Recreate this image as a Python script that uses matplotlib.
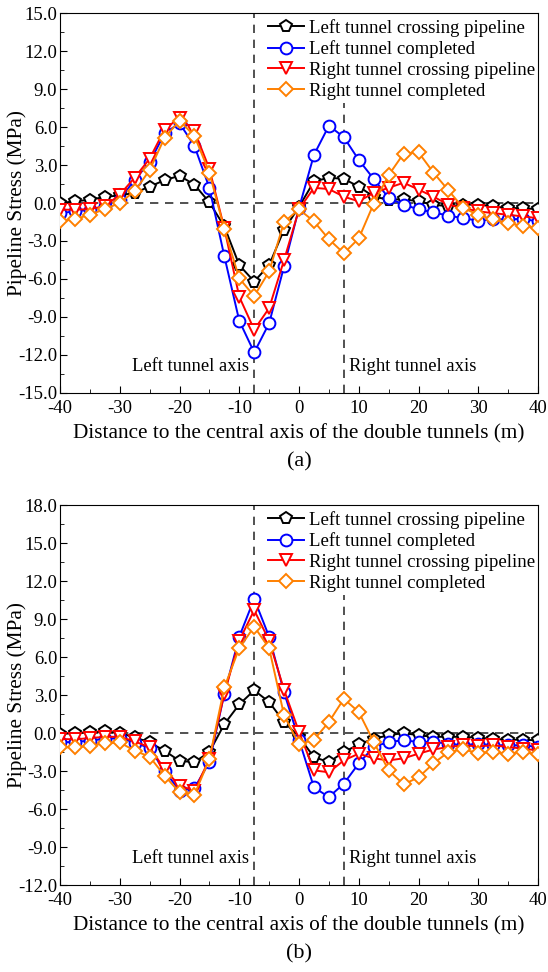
import matplotlib
matplotlib.use('Agg')
import matplotlib.pyplot as plt
import numpy as np
from matplotlib.ticker import MultipleLocator, FormatStrFormatter

plt.rcParams['font.family'] = ['Liberation Serif', 'DejaVu Serif']
plt.rcParams['axes.unicode_minus'] = False

x = np.arange(-40, 40.1, 2.5)

names = ('Left tunnel crossing pipeline', 'Left tunnel completed',
         'Right tunnel crossing pipeline', 'Right tunnel completed')

# panel (a)
a_left_cross = [0.0, 0.13, 0.26, 0.48, 0.6, 0.8, 1.3, 1.8, 2.15, 1.45,
                0.05, -1.85, -4.9, -6.2, -4.9, -2.1, -0.3, 1.7, 2.0, 1.9,
                1.3, 0.5, 0.26, 0.3, 0.13, -0.13, -0.26, -0.13, -0.13, -0.26,
                -0.4, -0.4, -0.5]
a_left_done = [-0.8, -0.66, -0.53, -0.26, 0.26, 1.85, 3.2, 5.5, 6.3, 4.5,
               1.2, -4.2, -9.3, -11.8, -9.5, -5.0, -0.4, 3.8, 6.1, 5.2,
               3.4, 1.9, 0.4, -0.13, -0.5, -0.74, -1.0, -1.2, -1.4, -1.3,
               -1.27, -1.27, -1.45]
a_right_cross = [-0.53, -0.53, -0.48, -0.26, 0.66, 2.0, 3.5, 5.8, 6.75, 5.7,
                 2.7, -2.0, -7.4, -10.0, -8.3, -4.5, -0.5, 1.2, 1.1, 0.5,
                 0.13, 0.8, 1.2, 1.6, 1.06, 0.5, -0.13, -0.4, -0.66, -0.8,
                 -0.93, -1.06, -1.2]
a_right_done = [-1.45, -1.27, -0.93, -0.48, 0.0, 0.93, 2.6, 5.15, 6.5, 5.3,
                2.4, -2.06, -5.95, -7.35, -5.4, -1.5, -0.5, -1.45, -2.86, -3.97,
                -2.8, -0.05, 2.2, 3.9, 4.0, 2.4, 1.0, -0.4, -0.93, -1.3,
                -1.6, -1.8, -2.0]

# panel (b)
b_left_cross = [-0.08, 0.0, 0.05, 0.13, 0.0, -0.34, -0.74, -1.4, -2.2, -2.3,
                -1.5, 0.7, 2.26, 3.37, 2.45, 0.87, -0.3, -1.9, -2.3, -1.5,
                -0.9, -0.45, -0.18, 0.0, -0.18, -0.3, -0.3, -0.3, -0.37, -0.45,
                -0.53, -0.53, -0.58]
b_left_done = [-0.74, -0.7, -0.6, -0.45, -0.4, -0.75, -1.2, -3.0, -4.55, -4.35,
               -2.3, 3.1, 7.6, 10.6, 7.6, 3.2, -0.53, -4.3, -5.05, -4.0,
               -2.4, -1.1, -0.7, -0.58, -0.7, -0.7, -0.84, -0.97, -0.84, -0.97,
               -0.97, -0.97, -1.1]
b_right_cross = [-0.47, -0.5, -0.4, -0.3, -0.3, -0.66, -1.13, -2.85, -4.16, -4.55,
                 -2.05, 3.1, 7.3, 9.7, 7.3, 3.4, 0.1, -2.95, -3.1, -2.16,
                 -1.63, -2.0, -2.16, -2.0, -1.63, -1.3, -1.1, -0.97, -1.05, -0.97,
                 -1.1, -1.24, -1.37]
b_right_done = [-1.13, -1.13, -1.0, -0.82, -0.74, -1.4, -1.87, -3.37, -4.68, -4.87,
                -2.05, 3.6, 6.7, 8.4, 6.7, 1.4, -0.9, -0.53, 0.87, 2.7,
                1.66, -0.7, -2.95, -4.05, -3.5, -2.4, -1.5, -1.3, -1.58, -1.5,
                -1.63, -1.5, -1.68]

colors = ('black', '#0000ff', '#ff0000', '#ff8000')
markers = ('p', 'o', 'v', 'D')
msizes = (8.5, 8.5, 8.5, 7.5)

panels = (
    ('(a)', (a_left_cross, a_left_done, a_right_cross, a_right_done), (-15, 15)),
    ('(b)', (b_left_cross, b_left_done, b_right_cross, b_right_done), (-12, 18)),
)

fig = plt.figure(figsize=(5.48, 9.72), dpi=100)
boxes = ([0.1095, 0.5957, 0.8723, 0.3909], [0.1095, 0.0895, 0.8723, 0.3909])
dash = (0, (5, 4))

for box, (tag, series, ylim) in zip(boxes, panels):
    ax = fig.add_axes(box)
    for ys, name, c, m, ms in zip(series, names, colors, markers, msizes):
        ax.plot(x, ys, color=c, marker=m, markersize=ms, markerfacecolor='white',
                markeredgewidth=1.4, linewidth=1.4, label=name, zorder=3)
    ax.axhline(0, color='#333333', linestyle=dash, linewidth=1.2, zorder=1)
    ax.axvline(-7.5, color='#333333', linestyle=dash, linewidth=1.2, zorder=1)
    ax.axvline(7.5, ymax=0.763, color='#333333', linestyle=dash, linewidth=1.2, zorder=1)
    ax.set_xlim(-40, 40)
    ax.set_ylim(*ylim)
    ax.xaxis.set_major_locator(MultipleLocator(10))
    ax.xaxis.set_minor_locator(MultipleLocator(5))
    ax.yaxis.set_major_locator(MultipleLocator(3))
    ax.yaxis.set_minor_locator(MultipleLocator(1.5))
    ax.yaxis.set_major_formatter(FormatStrFormatter('%.1f'))
    ax.tick_params(which='both', direction='in', labelsize=13.5, top=False, right=False)
    ax.tick_params(axis='x', pad=5)
    ax.tick_params(axis='y', pad=2)
    ax.tick_params(which='major', length=5)
    ax.tick_params(which='minor', length=3)
    ax.set_xlabel('Distance to the central axis of the double tunnels (m)', fontsize=15.3)
    ax.xaxis.set_label_coords(0.5, -0.082)
    ax.set_ylabel('Pipeline Stress (MPa)', fontsize=15.3)
    ax.yaxis.set_label_coords(-0.07, 0.5)
    ty = ylim[0] + 0.071 * (ylim[1] - ylim[0])
    ax.text(-8.3, ty, 'Left tunnel axis', ha='right', va='center', fontsize=13.4)
    ax.text(8.3, ty, 'Right tunnel axis', ha='left', va='center', fontsize=13.4)
    ax.legend(loc='upper right', frameon=False, fontsize=13.5, handlelength=1.9,
              handletextpad=0.3, labelspacing=0.2, borderaxespad=0.0,
              bbox_to_anchor=(1.01, 1.005))
    ax.text(0.5, -0.18, tag, transform=ax.transAxes, ha='center', va='center', fontsize=16)

plt.savefig('out.png', dpi=100)
